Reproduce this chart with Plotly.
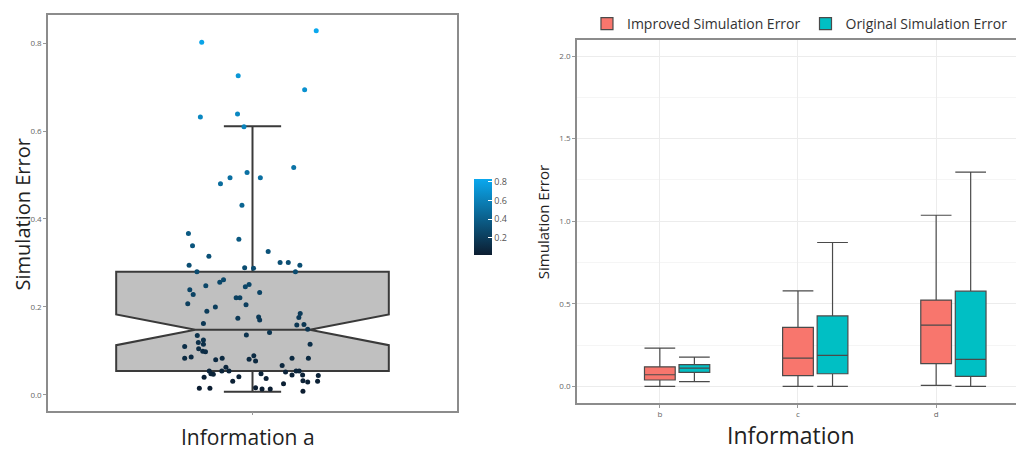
import plotly.graph_objects as go

# ---- left panel: Information a (jittered points over a notched box) ----
a_error = [
    0.828, 0.802, 0.726, 0.694, 0.632, 0.639, 0.610, 0.517, 0.506, 0.494,
    0.494, 0.480, 0.431, 0.367, 0.339, 0.354, 0.315, 0.326, 0.295, 0.301,
    0.301, 0.295, 0.280, 0.289, 0.288, 0.280,
    0.262, 0.256, 0.248, 0.251, 0.246, 0.239, 0.228, 0.233, 0.221, 0.221,
    0.207, 0.205, 0.200, 0.190,
    0.177, 0.170, 0.174, 0.185, 0.176, 0.162, 0.159, 0.160, 0.149, 0.142,
    0.135, 0.136, 0.125, 0.119, 0.115, 0.110, 0.115, 0.105, 0.099, 0.098,
    0.083, 0.086, 0.080, 0.083, 0.081, 0.089, 0.077, 0.083, 0.083, 0.067,
    0.063, 0.054, 0.054, 0.054, 0.048, 0.047, 0.048, 0.052, 0.045, 0.054,
    0.054, 0.045, 0.044, 0.040, 0.037, 0.041, 0.031, 0.032, 0.029, 0.031,
    0.025, 0.015, 0.015, 0.016, 0.013, 0.013, 0.008,
]
a_jitter = [
    0.187, -0.149, -0.042, 0.153, -0.153, -0.044, -0.025, 0.121, -0.016, -0.066,
    0.023, -0.094, -0.031, -0.188, -0.176, -0.040, -0.128, 0.046, -0.186, 0.081,
    0.105, 0.139, -0.163, -0.023, 0.003, 0.126,
    -0.085, -0.096, -0.137, -0.010, -0.021, -0.184, -0.174, 0.021, -0.048, -0.037,
    -0.190, -0.019, -0.109, -0.134,
    0.018, 0.021, -0.043, 0.140, 0.136, -0.144, 0.130, 0.151, 0.162, 0.050,
    -0.162, -0.018, -0.144, -0.159, -0.144, -0.199, 0.169, -0.158, -0.146, -0.138,
    -0.199, -0.180, -0.108, -0.089, -0.010, 0.004, 0.009, 0.116, 0.164, 0.087,
    -0.078, -0.069, -0.090, -0.127, -0.122, -0.115, 0.025, 0.097, 0.116, 0.128,
    0.137, 0.147, 0.193, -0.142, 0.040, -0.040, -0.058, 0.148, 0.162, 0.191,
    0.091, -0.156, -0.125, 0.009, 0.028, 0.052, 0.148,
]
# box statistics
a_q1, a_median, a_q3 = 0.054, 0.148, 0.280
a_low, a_high = 0.007, 0.611
a_notch = 0.035

# ---- right panel: Information b, c, d ----
groups = ["b", "c", "d"]
imp_q1 = [0.038, 0.064, 0.137]
imp_median = [0.070, 0.171, 0.371]
imp_q3 = [0.118, 0.357, 0.522]
imp_low = [0.0, 0.0, 0.006]
imp_high = [0.231, 0.578, 1.036]

orig_q1 = [0.084, 0.076, 0.060]
orig_median = [0.110, 0.187, 0.163]
orig_q3 = [0.131, 0.426, 0.576]
orig_low = [0.028, 0.0, 0.0]
orig_high = [0.177, 0.871, 1.297]

FONT = "Open Sans"

fig = go.Figure()

fig.add_trace(go.Box(
    x=[0], q1=[a_q1], median=[a_median], q3=[a_q3],
    lowerfence=[a_low], upperfence=[a_high],
    notched=True, notchspan=[a_notch], notchwidth=0.29,
    width=0.8, whiskerwidth=0.21,
    fillcolor="#c0c0c0", line=dict(color="#3a3a3a", width=2),
    boxpoints=False, showlegend=False, hoverinfo="skip",
    xaxis="x", yaxis="y",
))

fig.add_trace(go.Scatter(
    x=a_jitter, y=a_error, mode="markers",
    marker=dict(
        size=5, color=a_error,
        colorscale=[[0, "#0c1d30"], [1, "#0aa8ee"]],
        showscale=True,
        colorbar=dict(
            x=0.4587, xanchor="left", y=0.537, yanchor="middle",
            xpad=0, ypad=0,
            len=0.173, lenmode="fraction", thickness=18,
            outlinewidth=0, tickvals=[0.2, 0.4, 0.6, 0.8],
            ticks="inside", ticklen=4, tickcolor="white",
            tickfont=dict(size=9, color="#555", family=FONT),
        ),
    ),
    showlegend=False, xaxis="x", yaxis="y",
))

fig.add_trace(go.Box(
    x=groups, q1=imp_q1, median=imp_median, q3=imp_q3,
    lowerfence=imp_low, upperfence=imp_high,
    name="Improved Simulation Error", whiskerwidth=1,
    fillcolor="#F8766D", line=dict(color="#4a4a4a", width=1.2),
    xaxis="x2", yaxis="y2",
))
fig.add_trace(go.Box(
    x=groups, q1=orig_q1, median=orig_median, q3=orig_q3,
    lowerfence=orig_low, upperfence=orig_high,
    name="Original Simulation Error", whiskerwidth=1,
    fillcolor="#00BFC4", line=dict(color="#4a4a4a", width=1.2),
    xaxis="x2", yaxis="y2",
))

frame = dict(showline=True, mirror=True, linecolor="#8c8c8c", linewidth=1.5,
             zeroline=False)
ticks = dict(ticks="outside", ticklen=3, tickcolor="#999",
             tickfont=dict(size=8, color="#666", family=FONT))


def title(text, x, y, size, angle=0):
    return dict(text=text, xref="paper", yref="paper", x=x, y=y,
                xanchor="center", yanchor="middle", textangle=angle,
                showarrow=False, font=dict(size=size, color="#222", family=FONT))


# the page adds an 8px body margin, so the figure is 1016x444 inside the window
fig.update_layout(
    width=1016, height=444,
    margin=dict(l=0, r=0, t=0, b=0),
    paper_bgcolor="white", plot_bgcolor="white",
    font=dict(family=FONT, color="#222"),
    boxmode="group", boxgap=0.25, boxgroupgap=0.11,
    xaxis=dict(domain=[0.0394, 0.4419], range=[-0.6, 0.6],
               tickvals=[0], ticktext=[""], showgrid=False,
               anchor="y", **frame, **ticks),
    yaxis=dict(domain=[0.0946, 1.0], range=[-0.036, 0.864],
               tickvals=[0, 0.2, 0.4, 0.6, 0.8],
               ticktext=["0.0", "0.2", "0.4", "0.6", "0.8"],
               showgrid=False, anchor="x", **frame, **ticks),
    xaxis2=dict(domain=[0.560, 0.9951], type="category",
                range=[-0.6, 2.6], showgrid=True, gridcolor="#ececec",
                anchor="y2", **frame, **ticks),
    yaxis2=dict(domain=[0.1126, 0.9437], range=[-0.1, 2.1],
                tickvals=[0, 0.5, 1, 1.5, 2],
                ticktext=["0.0", "0.5", "1.0", "1.5", "2.0"],
                showgrid=True, gridcolor="#ececec",
                minor=dict(dtick=0.25, tick0=0, showgrid=True,
                           gridcolor="#f5f5f5"),
                anchor="x2", **frame, **ticks),
    legend=dict(orientation="h", x=0.7795, xanchor="center",
                y=0.98, yanchor="middle", bgcolor="rgba(0,0,0,0)",
                font=dict(size=14, color="#333", family=FONT)),
    annotations=[
        title("Simulation Error", 0.0145, 0.543, 20, -90),
        title("Information a", 0.236, 0.034, 21),
        title("Simulation Error", 0.5266, 0.526, 15, -90),
        title("Information", 0.7707, 0.0383, 23),
    ],
)

fig.write_html("out.html")
